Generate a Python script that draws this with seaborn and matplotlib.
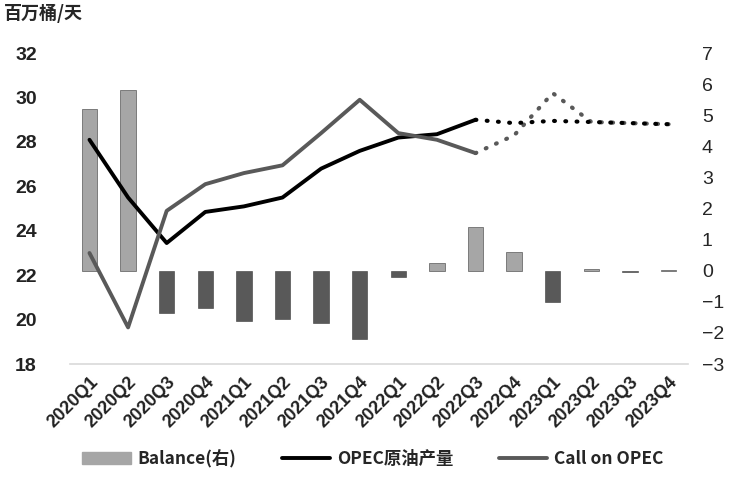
import pandas as pd
import matplotlib.pyplot as plt
import seaborn as sns
import numpy as np
from matplotlib.patches import Patch
from matplotlib.lines import Line2D

quarters = ['2020Q1', '2020Q2', '2020Q3', '2020Q4', '2021Q1', '2021Q2', '2021Q3', '2021Q4',
            '2022Q1', '2022Q2', '2022Q3', '2022Q4', '2023Q1', '2023Q2', '2023Q3', '2023Q4']
balance = [5.2, 5.8, -1.36, -1.2, -1.6, -1.54, -1.67, -2.2,
           -0.2, 0.25, 1.4, 0.6, -1.0, 0.05, -0.05, 0.03]
opec_prod = [28.1, 25.5, 23.45, 24.85, 25.1, 25.5, 26.8, 27.6,
             28.2, 28.35, 29.0, 28.85, 28.95, 28.9, 28.85, 28.8]
call_on_opec = [23.0, 19.65, 24.9, 26.1, 26.6, 26.95, 28.4, 29.9,
                28.4, 28.1, 27.5, 28.3, 30.2, 28.9, 28.85, 28.8]
last_actual = 10  # 2022Q3, after that forecast (dotted)

sns.set_style('white')
plt.rcParams['font.family'] = ['Liberation Sans', 'Noto Sans CJK SC', 'DejaVu Sans']

df = pd.DataFrame({'quarter': quarters, 'balance': balance,
                   'prod': opec_prod, 'call': call_on_opec})
df['idx'] = np.arange(len(df))
df['sign'] = np.where(df['balance'] >= 0, 'pos', 'neg')

light = '#a6a6a6'
dark = '#595959'

fig = plt.figure(figsize=(7.31, 4.79), dpi=100)
ax_bar = fig.add_axes([0.096, 0.240, 0.845, 0.649])
sns.barplot(data=df, x='quarter', y='balance', hue='sign', palette={'pos': light, 'neg': dark},
            dodge=False, width=0.4, legend=False, ax=ax_bar, edgecolor='#3a3a3a', linewidth=0.4)
ax_bar.set_ylim(-3, 7)
ax_bar.set_yticks(range(-3, 8))
ax_bar.yaxis.tick_right()
ax_bar.set_xlim(-0.5, len(quarters) - 0.5)

ax_line = ax_bar.twinx()
ax_line.yaxis.tick_left()
solid = df[df['idx'] <= last_actual]
fcst = df[df['idx'] >= last_actual]
sns.lineplot(data=solid, x='idx', y='prod', color='black', lw=2.8, ax=ax_line)
sns.lineplot(data=solid, x='idx', y='call', color=dark, lw=2.8, ax=ax_line)
for col, c in [('call', dark), ('prod', 'black')]:
    sns.lineplot(data=fcst, x='idx', y=col, color=c, lw=3.0, ax=ax_line,
                 linestyle=(0, (0.2, 2.5)), dash_capstyle='round')
ax_line.set_ylim(18, 32)
ax_line.set_yticks(range(18, 33, 2))

for a in (ax_bar, ax_line):
    a.set_xlabel('')
    a.set_ylabel('')
    for s in a.spines.values():
        s.set_visible(False)
    a.tick_params(length=0, labelsize=14)
    for t in a.get_yticklabels():
        t.set_fontweight('bold')
        t.set_color('#222222')
ax_line.tick_params(axis='y', pad=24)
ax_bar.tick_params(axis='y', pad=10)
ax_bar.spines['bottom'].set_visible(True)
ax_bar.spines['bottom'].set_color('#d9d9d9')
ax_bar.spines['bottom'].set_linewidth(1.2)

ax_bar.set_xticks(range(len(quarters)))
ax_bar.set_xticklabels(quarters, rotation=45, ha='right', rotation_mode='anchor',
                       fontsize=13, color='#222222', fontweight='semibold')
ax_bar.tick_params(axis='x', pad=7)
ax_bar.tick_params(axis='y', labelright=True, labelleft=False)

fig.text(0.006, 0.972, '百万桶/天', fontsize=13, fontweight='bold',
         family=['Noto Sans CJK SC', 'DejaVu Sans'], va='center', ha='left')

handles = [Patch(color=light), Line2D([], [], color='black', lw=2.8),
           Line2D([], [], color=dark, lw=2.8)]
labels = ['Balance(右)', 'OPEC原油产量', 'Call on OPEC']
fig.legend(handles, labels, loc='center', bbox_to_anchor=(0.51, 0.042), ncol=3, frameon=False,
           prop={'family': ['Noto Sans CJK SC', 'DejaVu Sans'], 'weight': 'bold', 'size': 12.5},
           handlelength=2.8, handleheight=0.6, columnspacing=2.6, handletextpad=0.4)

fig.savefig('out.png', dpi=100)
